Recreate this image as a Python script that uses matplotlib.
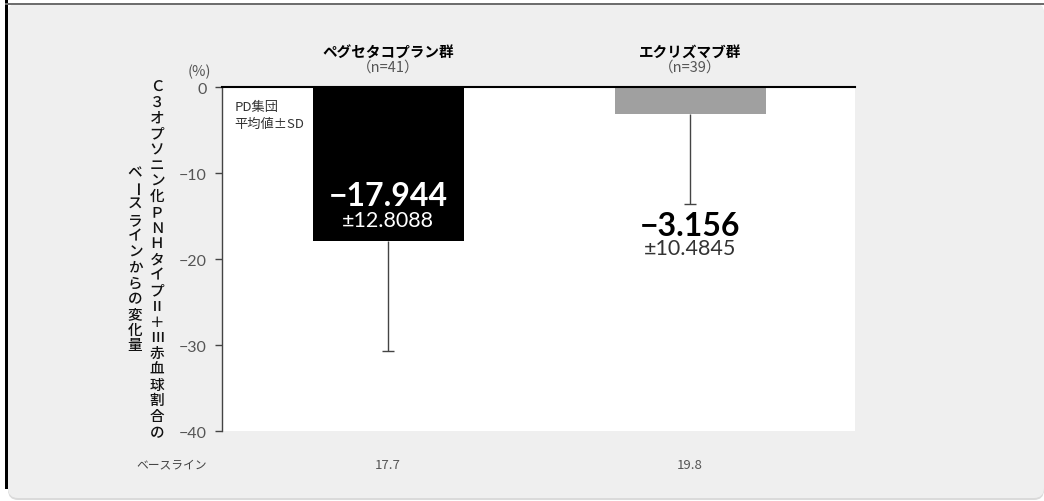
import matplotlib

matplotlib.use('Agg')
import matplotlib.pyplot as plt
from matplotlib.patches import FancyBboxPatch, Rectangle
from matplotlib.transforms import IdentityTransform

# --- data ---
groups = ["ペグセタコプラン群", "エクリズマブ群"]
n_counts = [41, 39]
means = [-17.944, -3.156]
sds = [12.8088, 10.4845]
baseline = [17.7, 19.8]
yticks = [0, -10, -20, -30, -40]

ylabel_lines = ["Ｃ３オプソニン化ＰＮＨタイプⅡ＋Ⅲ赤血球割合の", "ベースラインからの変化量"]

JP = ['Noto Sans CJK JP', 'DejaVu Sans']
NUM = ['Lato', 'Noto Sans CJK JP', 'DejaVu Sans']
plt.rcParams['font.family'] = JP

W, H = 1044, 502
fig = plt.figure(figsize=(W / 100, H / 100), dpi=100, facecolor='white')

# panel background with rounded bottom, framed by a dark left rule and grey top rule
px = IdentityTransform()
fig.add_artist(FancyBboxPatch((8, 1), W - 8, H - 6, boxstyle='round,pad=0,rounding_size=10',
                              transform=px, fc='#dadada', ec='none', zorder=-10))
fig.add_artist(FancyBboxPatch((8, 3), W - 8, H - 7, boxstyle='round,pad=0,rounding_size=10',
                              transform=px, fc='#efefef', ec='none', zorder=-9))
fig.add_artist(Rectangle((5, 12), 3, H - 12, transform=px, fc='black', ec='none', zorder=-8))
fig.add_artist(Rectangle((5, H - 6), W, 2, transform=px, fc='#6e6e6e', ec='none', zorder=-8))

ax = fig.add_axes([222 / W, 1 - 432 / H, 633 / W, 344 / H])
ax.set_facecolor('white')

x = list(range(len(groups)))
colors = ['black', '#a0a0a0']
ax.bar(x, means, width=0.5, color=colors, zorder=2)

# downward SD whiskers only
lows = [m - s for m, s in zip(means, sds)]
ax.vlines(x, means, lows, color='#444444', lw=1, zorder=3)
ax.plot(x, lows, ls='none', marker='_', ms=8, mew=1, color='#444444', zorder=3)

ax.set_xlim(-0.55, 1.546)
ax.set_ylim(-40, 0)
ax.set_xticks([])
ax.set_yticks(yticks)
ax.set_yticklabels([f"−{abs(v)}" if v < 0 else str(v) for v in yticks],
                   family=NUM, fontsize=11.5, color='#555555')
ax.tick_params(axis='y', length=5, width=1, color='#444444', pad=6)
for side in ['right', 'bottom']:
    ax.spines[side].set_visible(False)
ax.spines['top'].set_color('black')
ax.spines['top'].set_linewidth(1.5)
ax.spines['left'].set_color('#444444')
ax.spines['left'].set_linewidth(1)

# value labels
ax.annotate(f"−{abs(means[0]):.3f}", (x[0], means[0]), xytext=(0, 33), textcoords='offset points',
            ha='center', va='center', family=NUM, fontsize=23, fontweight='bold', color='white', zorder=4)
ax.annotate(f"±{sds[0]:.4f}", (x[0], means[0]), xytext=(0, 15), textcoords='offset points',
            ha='center', va='center', family=NUM, fontsize=15.5, color='white', zorder=4)
ax.annotate(f"−{abs(means[1]):.3f}", (x[1], lows[1]), xytext=(0, -15), textcoords='offset points',
            ha='center', va='center', family=NUM, fontsize=23, fontweight='bold', color='black', zorder=4)
ax.annotate(f"±{sds[1]:.4f}", (x[1], lows[1]), xytext=(0, -31.5), textcoords='offset points',
            ha='center', va='center', family=NUM, fontsize=15.5, color='#333333', zorder=4)

# group headers above the plot
xt = ax.get_xaxis_transform()
for xi, g, n in zip(x, groups, n_counts):
    ax.text(xi, 1.105, g, transform=xt, ha='center', va='center', fontsize=10.5,
            fontweight='bold', color='black')
    ax.text(xi, 1.058, f"（n={n}）", transform=xt, ha='center', va='center', fontsize=10.5,
            color='#555555')

ax.text(-0.035, 1.047, "(%)", transform=ax.transAxes, ha='center', va='center',
        fontsize=10.5, color='#555555')

ax.text(0.02, 0.942, "PD集団", transform=ax.transAxes, ha='left', va='center',
        fontsize=9.5, color='#333333')
ax.text(0.02, 0.893, "平均値±SD", transform=ax.transAxes, ha='left', va='center',
        fontsize=9.5, color='#333333')

# baseline row under the plot
ax.text(-0.079, -0.096, "ベースライン", transform=ax.transAxes, ha='center', va='center',
        fontsize=8.5, color='#444444')
for xi, b in zip(x, baseline):
    ax.text(xi, -0.096, f"{b}", transform=xt, ha='center', va='center',
            fontsize=9.5, color='#555555')

# vertical (tategaki) y-axis title: first line on the right, characters stacked
col_x = [157, 135]
pitch = 15.7
yc = 260
for cx, line in zip(col_x, ylabel_lines):
    n = len(line)
    for i, ch in enumerate(line):
        cy = yc + (i - (n - 1) / 2) * pitch
        rot = -90 if ch == 'ー' else 0
        fig.text(cx / W, 1 - cy / H, ch, ha='center', va='center', fontsize=10.5,
                 color='#111111', rotation=rot, rotation_mode='anchor', fontweight='medium')

fig.savefig('out.png', dpi=100, facecolor=fig.get_facecolor())
